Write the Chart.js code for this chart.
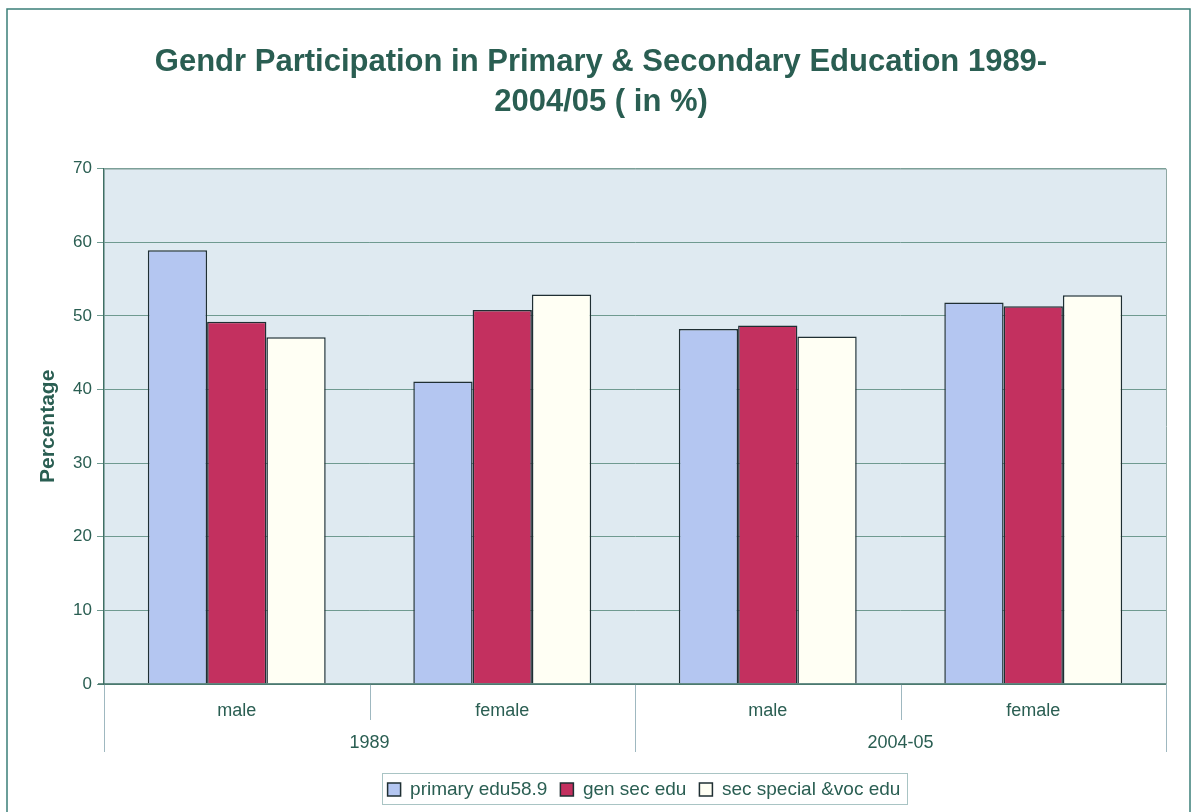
<!DOCTYPE html>
<html>
<head>
<meta charset="utf-8">
<script src="https://cdn.jsdelivr.net/npm/chart.js@4/dist/chart.umd.min.js"></script>
<style>
  html, body { margin: 0; padding: 0; background: #ffffff; }
  #wrap { position: relative; width: 1192px; height: 812px; }
</style>
</head>
<body>
<div id="wrap"><canvas id="c" width="1192" height="812"></canvas></div>
<script>
// ---- data ----
const categories = ['male', 'female', 'male', 'female'];
const years = ['1989', '2004-05'];
const seriesNames = ['primary edu58.9', 'gen sec edu', 'sec special &voc edu'];
const primaryEdu = [58.9, 41.1, 48.2, 51.8];
const genSecEdu = [49.2, 50.8, 48.7, 51.3];
const secSpecialVocEdu = [47.1, 52.9, 47.2, 52.8];
const yTicks = [0, 10, 20, 30, 40, 50, 60, 70];

const TEXT = '#2a5e52';
const FONT = '"Liberation Sans", Arial, sans-serif';
const LEGEND_SHIFT = 43;

const decorPlugin = {
  id: 'decor',
  afterLayout(chart) {
    const lg = chart.legend;
    if (lg) { lg.left += LEGEND_SHIFT; lg.right += LEGEND_SHIFT; }
  },
  beforeDraw(chart) {
    const { ctx, chartArea: a } = chart;
    ctx.save();
    ctx.fillStyle = '#ffffff';
    ctx.fillRect(0, 0, chart.width, chart.height);
    ctx.fillStyle = '#dfeaf1';
    ctx.fillRect(a.left, a.top, a.right - a.left, a.bottom - a.top);
    ctx.restore();
  },
  afterDraw(chart) {
    const { ctx, chartArea: a } = chart;
    const xs = chart.scales.x;
    ctx.save();
    // plot border top/right
    ctx.strokeStyle = '#8fa8a4';
    ctx.lineWidth = 1;
    ctx.beginPath();
    ctx.moveTo(a.left, a.top + 0.5); ctx.lineTo(a.right + 0.5, a.top + 0.5);
    ctx.lineTo(a.right + 0.5, a.bottom);
    ctx.stroke();
    // category separators
    const n = categories.length;
    const step = (a.right - a.left) / n;
    ctx.strokeStyle = '#9fb8c0';
    for (let i = 0; i <= n; i++) {
      const x = Math.round(xs.getPixelForValue(0) - step / 2 + i * step) + 0.5;
      const len = (i % 2 === 0) ? 68 : 36;
      ctx.beginPath();
      ctx.moveTo(x, a.bottom);
      ctx.lineTo(x, a.bottom + len);
      ctx.stroke();
    }
    // axis line at zero
    ctx.strokeStyle = '#3f6f64';
    ctx.lineWidth = 1.5;
    ctx.beginPath();
    ctx.moveTo(a.left - 6, a.bottom); ctx.lineTo(a.right, a.bottom);
    ctx.stroke();
    // legend box
    const hb = chart.legend.legendHitBoxes;
    if (hb && hb.length) {
      let l = Infinity, r = -Infinity, t = Infinity, b = -Infinity;
      hb.forEach(h => { l = Math.min(l, h.left); r = Math.max(r, h.left + h.width); t = Math.min(t, h.top); b = Math.max(b, h.top + h.height); });
      ctx.strokeStyle = '#a9c4c4';
      ctx.lineWidth = 1;
      ctx.strokeRect(Math.round(l - 6) + 0.5, Math.round(t - 7) + 0.5, Math.round(r - l + 12), Math.round(b - t + 12));
    }
    // outer border
    ctx.strokeStyle = '#3b7f78';
    ctx.lineWidth = 1.5;
    ctx.strokeRect(7, 9, chart.width - 9, chart.height);
    ctx.restore();
  }
};

new Chart(document.getElementById('c'), {
  type: 'bar',
  data: {
    labels: categories,
    datasets: [
      { label: seriesNames[0], data: primaryEdu, backgroundColor: '#b4c6f1', borderColor: '#1f2f33', borderWidth: 1.5 },
      { label: seriesNames[1], data: genSecEdu, backgroundColor: '#c3305f', borderColor: '#1f2f33', borderWidth: 1.5 },
      { label: seriesNames[2], data: secSpecialVocEdu, backgroundColor: '#fffff4', borderColor: '#1f2f33', borderWidth: 1.5 }
    ]
  },
  options: {
    responsive: false,
    animation: false,
    devicePixelRatio: 1,
    layout: { padding: { left: 36, right: 26, top: 10, bottom: 3 } },
    datasets: { bar: { barPercentage: 1.0, categoryPercentage: 0.67 } },
    plugins: {
      title: {
        display: true,
        text: ['Gendr Participation in Primary & Secondary Education 1989-', '2004/05 ( in %)'],
        color: TEXT,
        font: { family: FONT, size: 31, weight: 'bold', lineHeight: 1.3 },
        padding: { top: 32, bottom: 46 }
      },
      legend: {
        position: 'bottom',
        labels: {
          color: TEXT,
          font: { family: FONT, size: 19 },
          boxWidth: 13, boxHeight: 13, padding: 13
        }
      },
      tooltip: { enabled: false }
    },
    scales: {
      x: {
        type: 'category',
        position: 'bottom',
        grid: { display: false },
        border: { display: false },
        ticks: { color: TEXT, font: { family: FONT, size: 18 }, padding: 8 },
        afterFit(scale) { scale.height = 37; }
      },
      x2: {
        type: 'category',
        position: 'bottom',
        labels: years,
        offset: true,
        grid: { display: false },
        border: { display: false },
        ticks: { color: TEXT, font: { family: FONT, size: 18 }, padding: 3 },
        afterFit(scale) { scale.height = 46; }
      },
      y: {
        min: 0, max: 70,
        afterBuildTicks(scale) { scale.ticks = yTicks.map(v => ({ value: v })); },
        afterFit(scale) { scale.width = 68; },
        grid: { color: '#6f9a90', lineWidth: 1, tickLength: 7 },
        border: { color: '#3f6f64', width: 1.5 },
        ticks: { color: TEXT, font: { family: FONT, size: 17 }, padding: 5 },
        title: { display: true, text: 'Percentage', color: TEXT, font: { family: FONT, size: 21, weight: 'bold' }, padding: { top: 0, bottom: 0 } }
      }
    }
  },
  plugins: [decorPlugin]
});
</script>
</body>
</html>
